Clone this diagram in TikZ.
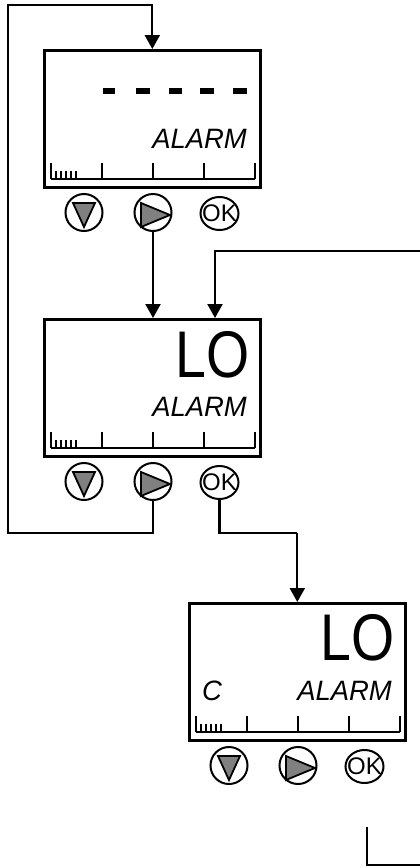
\documentclass[tikz,border=0pt]{standalone}
\usepackage{fontspec}
\setmainfont{Liberation Sans}
\usetikzlibrary{arrows.meta,shapes.geometric}
\tikzset{
  conn/.style={line width=2.2pt},
  arr/.style={conn,-{Triangle[width=15pt,length=14pt]}},
  lcd/.style={draw,line width=2.6pt,minimum width=216pt,minimum height=137pt,anchor=north west,inner sep=0pt},
  btn/.style={draw,circle,line width=2pt,minimum size=37pt,inner sep=0pt},
  okbtn/.style={draw,ellipse,line width=2pt,minimum width=38pt,minimum height=33pt,inner sep=0pt},
  tri/.style={fill=black!50,draw=black,line width=1.8pt,line join=miter},
  tickline/.style={line width=2pt},
  smalltick/.style={line width=1.5pt},
  lcdlabel/.style={inner sep=0pt,font=\fontsize{28}{28}\selectfont\itshape},
  bigtext/.style={inner sep=0pt,font=\fontsize{66}{66}\selectfont},
  oktext/.style={inner sep=0pt,font=\fontsize{24}{24}\selectfont},
  dashbar/.style={fill=black},
}
\newcommand\lcdscreen[3]{%
  \node[lcd] (#1) at (#2,#3) {};
  \begin{scope}[shift={(#2,#3)}]
    \draw[tickline] (8,130) -- (212,130);
    \foreach \xx in {8,59,110,161,212} \draw[tickline] (\xx,114) -- (\xx,130);
    \foreach \xx in {13,18,23,28,33} \draw[smalltick] (\xx,122) -- (\xx,130);
    \node[btn] (#1-down) at (41,163.5) {};
    \node[btn] (#1-play) at (110,163.5) {};
    \node[okbtn] (#1-ok) at (176.5,164.5) {};
    \node[oktext] at (#1-ok) {OK};
    \filldraw[tri] (30,154) -- (52,154) -- (41,178) -- cycle;
    \filldraw[tri] (98,154) -- (127,166) -- (98,178) -- cycle;
  \end{scope}%
}
\begin{document}
\begin{tikzpicture}[x=1pt,y=-1pt]
  \useasboundingbox (0,0) rectangle (420,868);
  % screens
  \lcdscreen{s1}{43}{49}
  \lcdscreen{s2}{43}{318}
  \lcdscreen{s3}{188}{602}
  % screen 1 contents
  \foreach \xa/\xb in {103/115,136/149.5,168.5/181.5,200/213.5,232.5/246.5}
    \fill[dashbar] (\xa,88) rectangle (\xb,94);
  \node[lcdlabel,anchor=base east] (t1) at (247,148) {\scalebox{0.98}[1]{ALARM}};
  % screen 2 contents
  \node[bigtext,anchor=base east] (lo2) at (250,377) {\scalebox{0.84}[1]{LO}};
  \node[lcdlabel,anchor=base east] (t2) at (247,416) {\scalebox{0.98}[1]{ALARM}};
  % screen 3 contents
  \node[bigtext,anchor=base east] (lo3) at (395,660) {\scalebox{0.84}[1]{LO}};
  \node[lcdlabel,anchor=base east] (t3) at (392,700) {\scalebox{0.98}[1]{ALARM}};
  \node[lcdlabel,anchor=base west] (c3) at (202,700) {\scalebox{0.98}[1]{C}};
  % connectors
  \coordinate (lb) at (8,533);
  \coordinate (lt) at (8,5);
  \draw[arr] (s2-play.south) |- (lb) -- (lt) -| (s1.north);
  \draw[arr] (s1-play.south) -- (s1-play.south |- s2.north);
  \coordinate (rin) at (421,251);
  \coordinate (s2in) at (215,318);
  \draw[arr] (rin) -| (s2in);
  \coordinate (mid) at (s3.north |- lb);
  \draw[conn] (s2-ok.south) |- (mid);
  \draw[arr] (mid) -- (s3.north);
  \coordinate (bt) at (367,827);
  \coordinate (br) at (421,865);
  \draw[conn] (bt) |- (br);
\end{tikzpicture}
\end{document}
